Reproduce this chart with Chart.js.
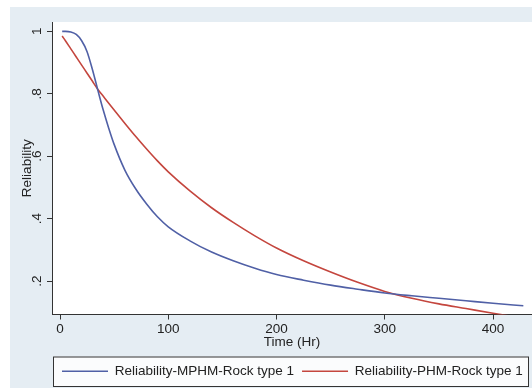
<!DOCTYPE html>
<html>
<head>
<meta charset="utf-8">
<script src="https://cdn.jsdelivr.net/npm/chart.js@4/dist/chart.umd.min.js"></script>
<style>
  html, body { margin: 0; padding: 0; background: #ffffff; }
  #wrap { width: 532px; height: 388px; }
</style>
</head>
<body>
<div id="wrap"><canvas id="c" width="532" height="388"></canvas></div>
<script>
// ---- data ----
const times = [2, 5, 10, 15, 20, 25, 30, 35, 40, 45, 50, 60, 70, 80, 90, 100, 120, 140, 160, 180, 200, 225, 250, 275, 300, 325, 350, 375, 400, 428];
const mphmReliability = [1.0, 1.0, 0.998, 0.99, 0.97, 0.935, 0.877, 0.811, 0.747, 0.69, 0.638, 0.555, 0.495, 0.447, 0.406, 0.374, 0.329, 0.293, 0.265, 0.241, 0.221, 0.203, 0.187, 0.174, 0.162, 0.153, 0.145, 0.137, 0.129, 0.121];
const phmReliability = [0.985, 0.97, 0.944, 0.918, 0.892, 0.866, 0.84, 0.814, 0.792, 0.77, 0.748, 0.705, 0.663, 0.623, 0.585, 0.55, 0.489, 0.435, 0.388, 0.345, 0.306, 0.265, 0.229, 0.196, 0.167, 0.145, 0.127, 0.112, 0.097, 0.081];
const seriesNames = ['Reliability-MPHM-Rock type 1', 'Reliability-PHM-Rock type 1'];
const xTickValues = [0, 100, 200, 300, 400];
const yTickValues = [0.2, 0.4, 0.6, 0.8, 1];
const xTitle = 'Time (Hr)';
const yTitle = 'Reliability';

const FONT = "'Liberation Sans', Arial, Helvetica, sans-serif";
Chart.defaults.font.family = FONT;
Chart.defaults.color = '#222222';

const toPoints = (xs, ys) => xs.map((x, i) => ({ x: x, y: ys[i] }));
const fmtY = v => (v === 1 ? '1' : Number(v).toFixed(1).replace(/^0/, ''));

const bgPlugin = {
  id: 'bg',
  afterLayout(chart) {
    if (chart.legend) { chart.legend.left = 54; }
  },
  beforeDraw(chart) {
    const ctx = chart.ctx, a = chart.chartArea;
    ctx.save();
    ctx.fillStyle = '#ffffff';
    ctx.fillRect(0, 0, chart.width, chart.height);
    ctx.fillStyle = '#e5edf3';
    ctx.fillRect(10, 7, chart.width - 10, chart.height - 7);
    ctx.fillStyle = '#ffffff';
    ctx.fillRect(a.left, a.top, a.right - a.left, a.bottom - a.top);
    const lg = chart.legend;
    if (lg) {
      ctx.fillStyle = '#fbfcfd';
      ctx.fillRect(53, lg.top, 475, lg.bottom - lg.top - 1);
    }
    ctx.restore();
  },
  afterDraw(chart) {
    const ctx = chart.ctx, lg = chart.legend;
    if (!lg) return;
    ctx.save();
    ctx.strokeStyle = '#333333';
    ctx.lineWidth = 1;
    ctx.strokeRect(53.5, lg.top + 0.5, 475, lg.bottom - lg.top - 2);
    ctx.restore();
  }
};

new Chart(document.getElementById('c'), {
  type: 'line',
  data: {
    datasets: [
      {
        label: seriesNames[0],
        data: toPoints(times, mphmReliability),
        borderColor: '#5060a6',
        backgroundColor: '#5060a6',
        borderWidth: 1.6,
        pointRadius: 0,
        cubicInterpolationMode: 'monotone',
        fill: false
      },
      {
        label: seriesNames[1],
        data: toPoints(times, phmReliability),
        borderColor: '#c4463e',
        backgroundColor: '#c4463e',
        borderWidth: 1.6,
        pointRadius: 0,
        cubicInterpolationMode: 'monotone',
        fill: false
      }
    ]
  },
  options: {
    responsive: false,
    animation: false,
    layout: { padding: { top: 22, left: 0, right: 0, bottom: 0 } },
    scales: {
      x: {
        type: 'linear',
        min: -7.4,
        max: 436,
        afterBuildTicks: s => { s.ticks = xTickValues.map(v => ({ value: v })); },
        afterFit: s => { s.height = 42; },
        border: { display: true, color: '#333333', width: 1 },
        grid: { display: true, drawOnChartArea: false, drawTicks: true, tickLength: 5, color: '#333333' },
        ticks: { maxRotation: 0, minRotation: 0, padding: 2, color: '#222222', font: { size: 13.5 } },
        title: { display: true, text: xTitle, color: '#222222', font: { size: 13.5 }, padding: { top: 0, bottom: 6 } }
      },
      y: {
        type: 'linear',
        min: 0.093,
        max: 1.03,
        afterBuildTicks: s => { s.ticks = yTickValues.map(v => ({ value: v })); },
        afterFit: s => { s.width = 52; },
        border: { display: true, color: '#333333', width: 1 },
        grid: { display: true, drawOnChartArea: false, drawTicks: true, tickLength: 5, color: '#333333' },
        ticks: { minRotation: 90, maxRotation: 90, crossAlign: 'center', padding: 4, color: '#222222', font: { size: 13.5 }, callback: v => fmtY(v) },
        title: { display: true, text: yTitle, color: '#222222', font: { size: 13.5 }, padding: { top: 19, bottom: 0 } }
      }
    },
    plugins: {
      legend: {
        display: true,
        position: 'bottom',
        align: 'start',
        labels: {
          usePointStyle: true,
          pointStyle: 'line',
          pointStyleWidth: 46,
          padding: 8,
          color: '#222222',
          font: { size: 13.5 }
        }
      },
      tooltip: { enabled: false }
    }
  },
  plugins: [bgPlugin]
});
</script>
</body>
</html>
